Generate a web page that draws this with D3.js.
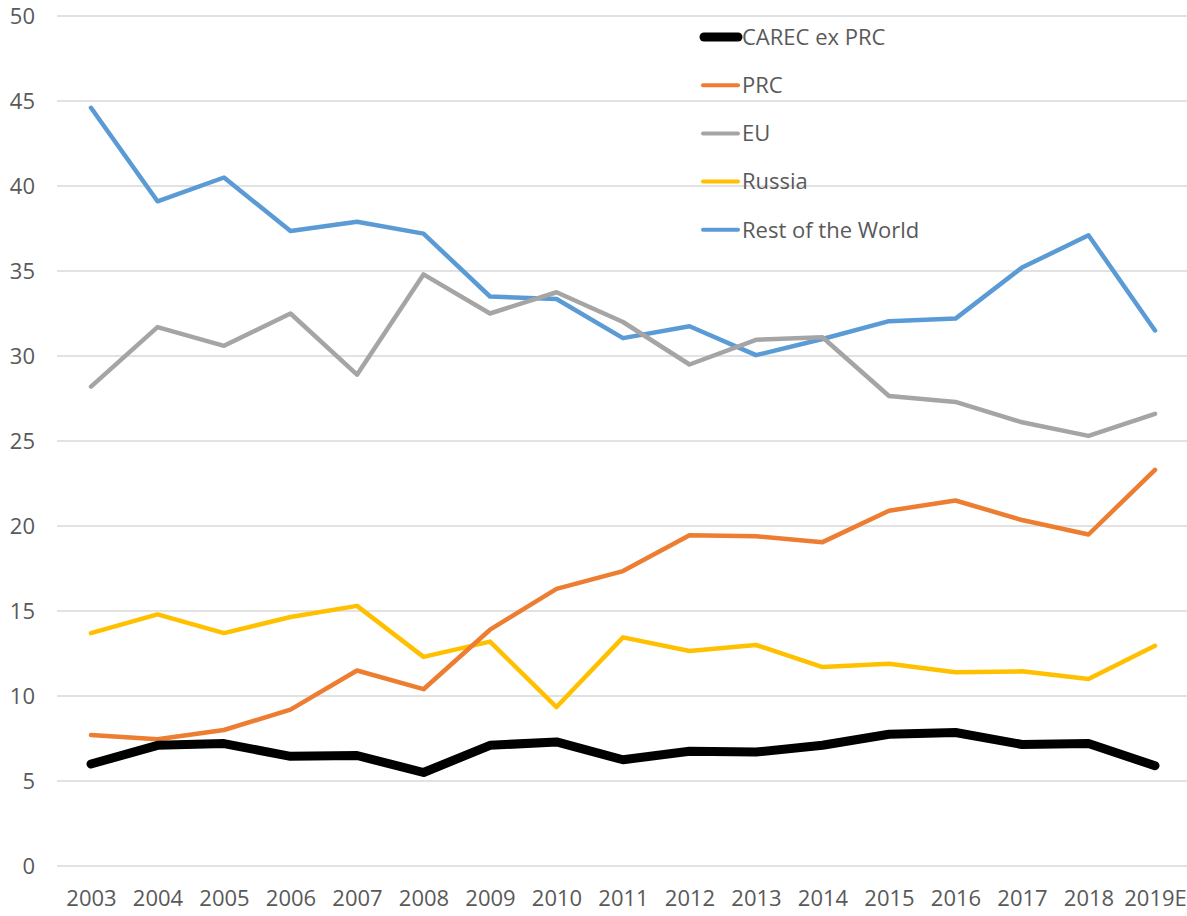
<!DOCTYPE html>
<html>
  <head>
    <meta charset="utf-8">
    <title>CAREC share chart</title>
    <script src="https://d3js.org/d3.v7.min.js"></script>
    <style>
      body { margin: 0; background: #fff; }
      text { font-family: "Open Sans", "Liberation Sans", sans-serif; fill: #595959; }
    </style>
  </head>
  <body>
    <svg width="1187" height="916"></svg>
    <script>
      // years on the x axis
      var years = ["2003","2004","2005","2006","2007","2008","2009","2010","2011",
                   "2012","2013","2014","2015","2016","2017","2018","2019E"];

      // series values
      var carecExPrc = [6.0,7.1,7.2,6.45,6.5,5.5,7.1,7.3,6.25,6.75,6.7,7.1,7.75,7.85,7.15,7.2,5.9];
      var prc        = [7.7,7.45,8.0,9.2,11.5,10.4,13.9,16.3,17.35,19.45,19.4,19.05,20.9,21.5,20.35,19.5,23.3];
      var eu         = [28.2,31.7,30.6,32.5,28.9,34.8,32.5,33.75,32.0,29.5,30.95,31.1,27.65,27.3,26.1,25.3,26.6];
      var russia     = [13.7,14.8,13.7,14.65,15.3,12.3,13.2,9.35,13.45,12.65,13.0,11.7,11.9,11.4,11.45,11.0,12.95];
      var restWorld  = [44.6,39.1,40.5,37.35,37.9,37.2,33.5,33.35,31.05,31.75,30.05,31.0,32.05,32.2,35.2,37.1,31.5];

      var yTicks = [0,5,10,15,20,25,30,35,40,45,50];

      var series = [
        {name: "CAREC ex PRC", values: carecExPrc, color: "#000000", width: 9},
        {name: "PRC", values: prc, color: "#ED7D31", width: 4.5},
        {name: "EU", values: eu, color: "#A5A5A5", width: 4.5},
        {name: "Russia", values: russia, color: "#FFC000", width: 4.5},
        {name: "Rest of the World", values: restWorld, color: "#5B9BD5", width: 4.5}
      ];

      var svg = d3.select("svg");
      var plotLeft = 57, plotRight = 1187, plotTop = 16, plotBottom = 866;

      var x = d3.scalePoint()
        .domain(years)
        .range([91, 1155]);

      var y = d3.scaleLinear()
        .domain([0, 50])
        .range([plotBottom, plotTop]);

      // gridlines
      svg.append("g")
        .selectAll("line")
        .data(yTicks)
        .enter().append("line")
        .attr("x1", plotLeft)
        .attr("x2", plotRight)
        .attr("y1", function(d) { return y(d); })
        .attr("y2", function(d) { return y(d); })
        .attr("stroke", "#d9d9d9")
        .attr("stroke-width", 1.3);

      // y axis labels
      var yAxis = svg.append("g")
        .attr("transform", "translate(" + 35 + ",0)")
        .call(d3.axisLeft(y).tickValues(yTicks).tickSize(0).tickPadding(0));
      yAxis.select(".domain").remove();
      yAxis.selectAll("text")
        .style("font-size", "22px")
        .attr("fill", "#595959")
        .attr("dy", "0.35em");

      // x axis labels
      var xAxis = svg.append("g")
        .attr("transform", "translate(0," + 889 + ")")
        .call(d3.axisBottom(x).tickSize(0).tickPadding(0));
      xAxis.select(".domain").remove();
      xAxis.selectAll("text")
        .style("font-size", "22px")
        .attr("fill", "#595959")
        .attr("dy", "0.75em");

      // lines
      var line = d3.line()
        .x(function(d, i) { return x(years[i]); })
        .y(function(d) { return y(d); });

      svg.append("g")
        .selectAll("path")
        .data(series.slice().reverse())
        .enter().append("path")
        .attr("d", function(d) { return line(d.values); })
        .attr("fill", "none")
        .attr("stroke", function(d) { return d.color; })
        .attr("stroke-width", function(d) { return d.width; })
        .attr("stroke-linejoin", "round")
        .attr("stroke-linecap", "round");

      // legend
      var legend = svg.append("g")
        .selectAll("g")
        .data(series)
        .enter().append("g")
        .attr("transform", function(d, i) { return "translate(0," + (37 + i * 48.2) + ")"; });

      legend.append("line")
        .attr("x1", function(d) { return d.width > 5 ? 704 : 703; })
        .attr("x2", 738)
        .attr("stroke", function(d) { return d.color; })
        .attr("stroke-width", function(d) { return d.width > 5 ? 9 : 4; })
        .attr("stroke-linecap", "round");

      legend.append("text")
        .attr("x", 742)
        .attr("dy", "0.35em")
        .style("font-size", "22px")
        .text(function(d) { return d.name; });
    </script>
  </body>
</html>
